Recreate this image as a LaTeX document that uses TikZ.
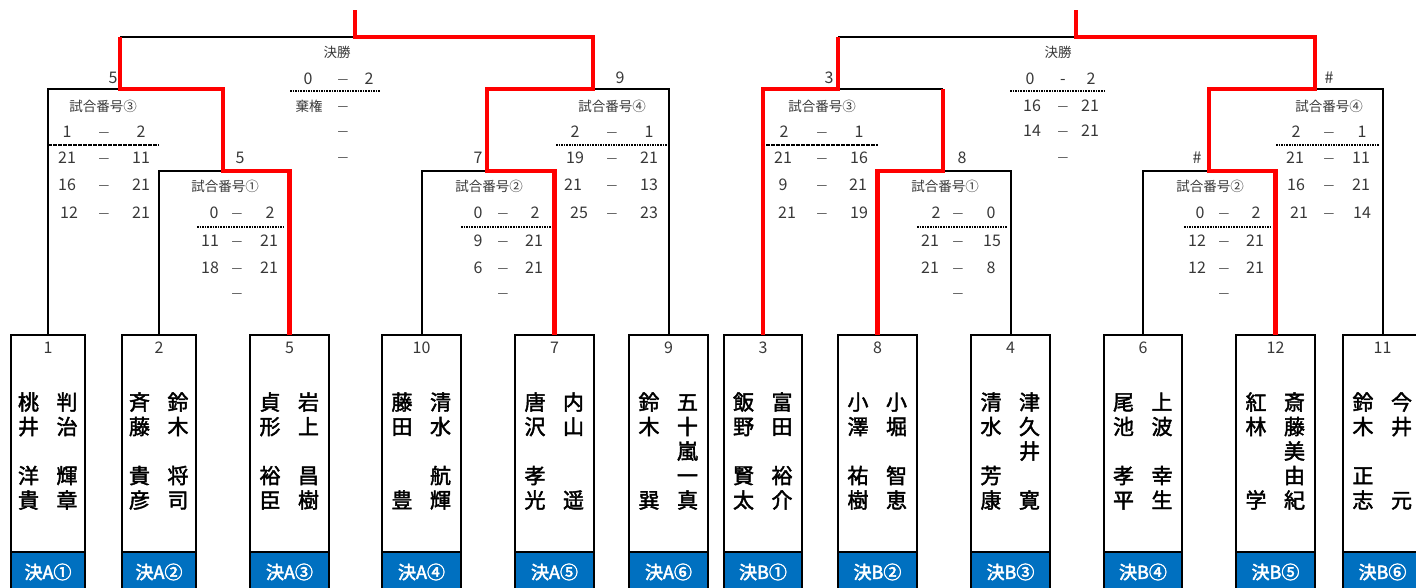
\documentclass[tikz,border=0pt]{standalone}
\usepackage{fontspec}
\newfontfamily\cjk{Noto Sans CJK JP}
\newfontfamily\cjkn[FakeBold=2]{Noto Sans CJK JP}
\newfontfamily\cjkb[FakeBold=2.5]{Noto Sans CJK JP}
\definecolor{tg}{HTML}{383838}
\definecolor{lblue}{HTML}{0070C0}
\definecolor{wred}{HTML}{FF0000}
\newcount\tn
\newcommand\vc[5]{\vtop{\baselineskip=24.5pt\lineskiplimit=-100pt\lineskip=0pt
  \hbox to 24pt{\hss#1\hss}\hbox to 24pt{\hss#2\hss}\hbox to 24pt{\hss#3\hss}\hbox to 24pt{\hss#4\hss}\hbox to 24pt{\hss#5\hss}}}
\tikzset{
  blk/.style={line width=2pt, draw=black, line join=miter},
  win/.style={line width=4.5pt, draw=wred, line join=miter},
  box/.style={draw=black, line width=2pt, minimum height=258pt, anchor=north, inner sep=0pt, outer sep=0pt},
  lab/.style={draw=black, fill=lblue, line width=2pt, minimum height=40pt, anchor=north, inner sep=0pt, outer sep=0pt,
     text=white, font=\cjkb\fontsize{18pt}{18pt}\selectfont},
  num/.style={inner sep=0pt, anchor=base, text=tg, font=\cjk\fontsize{16pt}{16pt}\selectfont},
  namecol/.style={inner sep=0pt, anchor=base, text=black, font=\cjkn\fontsize{21pt}{24.5pt}\selectfont},
  st/.style={inner sep=0pt, anchor=base, text=tg, font=\cjk\fontsize{16pt}{16pt}\selectfont},
  ttl/.style={inner sep=0pt, text=tg, font=\cjk\fontsize{13.5pt}{13.5pt}\selectfont},
  dsh/.style={inner sep=0pt, anchor=base, text=tg, font=\cjk\fontsize{12pt}{12pt}\selectfont},
  dotl/.style={line width=1.6pt, draw=black, dash pattern=on 1.5pt off 1.1pt},
  dashl/.style={line width=1.6pt, draw=black, dash pattern=on 3.6pt off 1.4pt}
}
\newcommand\Tx[3]{\global\advance\tn by 1\relax\node[st] (t\the\tn) at (#1,#2+5.9) {#3};}
\newcommand\Dx[2]{\global\advance\tn by 1\relax\node[dsh] (t\the\tn) at (#1,#2+4.6) {—};}
\newcommand\Hx[3]{\global\advance\tn by 1\relax\node[ttl] (t\the\tn) at (#1,#2) {#3};}
\newcommand\player[7]{%
  \node[lab, minimum width=#3pt] (b#1lab) at (#2,552) {#5};
  \node[box, minimum width=#3pt] (b#1) at (#2,335) {};
  \node[num] (b#1num) at (#2,353) {#4};
  \node[namecol] (b#1a) at (#2-19.5,410) {#6};
  \node[namecol] (b#1b) at (#2+19,410) {#7};
}
\begin{document}
\begin{tikzpicture}[x=1pt,y=-1pt]
\useasboundingbox (0,0) rectangle (1416,588);
\clip (0,0) rectangle (1416,588);
\fill[white] (0,0) rectangle (1416,588);

% players
\player{1}{48}{74}{1}{決A①}{\vc{桃}{井}{}{洋}{貴}}{\vc{判}{治}{}{輝}{章}}
\player{2}{159}{74}{2}{決A②}{\vc{斉}{藤}{}{貴}{彦}}{\vc{鈴}{木}{}{将}{司}}
\player{5}{289.5}{79}{5}{決A③}{\vc{貞}{形}{}{裕}{臣}}{\vc{岩}{上}{}{昌}{樹}}
\player{10}{421.5}{79}{10}{決A④}{\vc{藤}{田}{}{}{豊}}{\vc{清}{水}{}{航}{輝}}
\player{7}{554.5}{79}{7}{決A⑤}{\vc{唐}{沢}{}{孝}{光}}{\vc{内}{山}{}{}{遥}}
\player{9}{668.5}{79}{9}{決A⑥}{\vc{鈴}{木}{}{}{巽}}{\vc{五}{十}{嵐}{一}{真}}
\player{3}{763}{78}{3}{決B①}{\vc{飯}{野}{}{賢}{太}}{\vc{富}{田}{}{裕}{介}}
\player{8}{877.5}{79}{8}{決B②}{\vc{小}{澤}{}{祐}{樹}}{\vc{小}{堀}{}{智}{恵}}
\player{4}{1010.5}{79}{4}{決B③}{\vc{清}{水}{}{芳}{康}}{\vc{津}{久}{井}{}{寛}}
\player{6}{1143}{78}{6}{決B④}{\vc{尾}{池}{}{孝}{平}}{\vc{上}{波}{}{幸}{生}}
\player{12}{1275.5}{79}{12}{決B⑤}{\vc{紅}{林}{}{}{学}}{\vc{斎}{藤}{美}{由}{紀}}
\player{11}{1382.5}{79}{11}{決B⑥}{\vc{鈴}{木}{}{正}{志}}{\vc{今}{井}{}{}{元}}

% junction coordinates, A side
\coordinate (aFL) at (120,37);
\coordinate (aFW) at (355,37);
\coordinate (aFR) at (593,37);
\coordinate (aTop) at (355,10);
\coordinate (s3M) at (120,89);
\coordinate (s3R) at (223,89);
\coordinate (m1R) at (223,171);
\coordinate (s4L) at (487,89);
\coordinate (s4M) at (593,89);
\coordinate (m2M) at (487,171);
% B side
\coordinate (bFL) at (838,37);
\coordinate (bFW) at (1076,37);
\coordinate (bFR) at (1315,37);
\coordinate (bTop) at (1076,10);
\coordinate (bs3M) at (838,89);
\coordinate (bs3R) at (943,89);
\coordinate (bm1M) at (943,171);
\coordinate (bs4L) at (1209,89);
\coordinate (bs4M) at (1315,89);
\coordinate (bm2M) at (1209,171);

% black bracket lines
\draw[blk] (aFL) -- (aFW);
\draw[blk] (b1.north) |- (s3M);
\draw[blk] (b2.north) |- (m1R);
\draw[blk] (b10.north) |- (m2M);
\draw[blk] (b9.north) |- (s4M);
\draw[blk] (bFL) -- (bFW);
\draw[blk] (bs3M) -- (bs3R);
\draw[blk] (b4.north) |- (bm1M);
\draw[blk] (b6.north) |- (bm2M);
\draw[blk] (b11.north) |- (bs4M);

% winner lines
\draw[win] (b5.north) |- (m1R) -- (s3R) -- (s3M) -- (aFL);
\draw[win] (b7.north) |- (m2M) -- (s4L) -- (s4M) -- (aFR) -- (aFW) -- (aTop);
\draw[win] (b3.north) |- (bs3M) -- (bFL);
\draw[win] (b8.north) |- (bm1M) -- (bs3R);
\draw[win] (b12.north) |- (bm2M) -- (bs4L) -- (bs4M) -- (bFR) -- (bFW) -- (bTop);

% ===== A semi 3
\Tx{113}{78}{5}
\Hx{103}{106}{試合番号③}
\Tx{67}{132}{1}\Dx{104}{132}\Tx{141}{132}{2}
\coordinate (d1a) at (48,145); \coordinate (d1b) at (159,145);
\draw[dashl] (d1a) -- (d1b);
\Tx{67}{158}{21}\Dx{104}{158}\Tx{141}{158}{11}
\Tx{67}{185}{16}\Dx{104}{185}\Tx{141}{185}{21}
\Tx{69}{213}{12}\Dx{104}{213}\Tx{141}{213}{21}
% A match 1
\Tx{240}{158}{5}
\Hx{225}{186}{試合番号①}
\Tx{214}{213}{0}\Dx{237}{213}\Tx{270}{213}{2}
\coordinate (d2a) at (197,227); \coordinate (d2b) at (285,227);
\draw[dotl] (d2a) -- (d2b);
\Tx{210}{241}{11}\Dx{237}{241}\Tx{269}{241}{21}
\Tx{210}{268}{18}\Dx{237}{268}\Tx{269}{268}{21}
\Dx{237}{293}
% A final
\Hx{337}{52}{決勝}
\Tx{308}{79}{0}\Dx{343}{79}\Tx{369}{79}{2}
\coordinate (d3a) at (290,91); \coordinate (d3b) at (381,91);
\draw[dotl] (d3a) -- (d3b);
\Hx{309}{106}{棄権}\Dx{343}{106}
\Dx{343}{131}
\Dx{343}{157}
% A semi 4
\Tx{620}{78}{9}
\Hx{612}{106}{試合番号④}
\Tx{575}{132}{2}\Dx{612}{132}\Tx{649}{132}{1}
\coordinate (d4a) at (556,145); \coordinate (d4b) at (667,145);
\draw[dotl] (d4a) -- (d4b);
\Tx{575}{158}{19}\Dx{612}{158}\Tx{649}{158}{21}
\Tx{573}{185}{21}\Dx{612}{185}\Tx{649}{185}{13}
\Tx{579}{213}{25}\Dx{612}{213}\Tx{649}{213}{23}
% A match 2
\Tx{478}{158}{7}
\Hx{489}{186}{試合番号②}
\Tx{478}{213}{0}\Dx{503}{213}\Tx{535}{213}{2}
\coordinate (d5a) at (461,227); \coordinate (d5b) at (551,227);
\draw[dotl] (d5a) -- (d5b);
\Tx{478}{241}{9}\Dx{503}{241}\Tx{534}{241}{21}
\Tx{478}{268}{6}\Dx{503}{268}\Tx{534}{268}{21}
\Dx{503}{293}

% ===== B semi 3
\Tx{829}{78}{3}
\Hx{822}{106}{試合番号③}
\Tx{784}{132}{2}\Dx{822}{132}\Tx{859}{132}{1}
\coordinate (d6a) at (766,145); \coordinate (d6b) at (878,145);
\draw[dashl] (d6a) -- (d6b);
\Tx{783}{158}{21}\Dx{822}{158}\Tx{859}{158}{16}
\Tx{783}{185}{9}\Dx{822}{185}\Tx{858}{185}{21}
\Tx{787}{213}{21}\Dx{822}{213}\Tx{859}{213}{19}
% B match 1
\Tx{962}{158}{8}
\Hx{945}{186}{試合番号①}
\Tx{936}{213}{2}\Dx{958}{213}\Tx{991}{213}{0}
\coordinate (d7a) at (917,227); \coordinate (d7b) at (1008,227);
\draw[dotl] (d7a) -- (d7b);
\Tx{930}{241}{21}\Dx{958}{241}\Tx{992}{241}{15}
\Tx{930}{268}{21}\Dx{958}{268}\Tx{991}{268}{8}
\Dx{958}{293}
% B final
\Hx{1058}{52}{決勝}
\Tx{1030}{79}{0}\Tx{1063}{79}{-}\Tx{1091}{79}{2}
\coordinate (d8a) at (1010,91); \coordinate (d8b) at (1104,91);
\draw[dotl] (d8a) -- (d8b);
\Tx{1032}{106}{16}\Dx{1063}{106}\Tx{1090}{106}{21}
\Tx{1032}{131}{14}\Dx{1063}{131}\Tx{1090}{131}{21}
\Dx{1063}{157}
% B semi 4
\Tx{1329}{78}{\#}
\Hx{1329}{106}{試合番号④}
\Tx{1296}{132}{2}\Dx{1329}{132}\Tx{1362}{132}{1}
\coordinate (d9a) at (1276,145); \coordinate (d9b) at (1380,145);
\draw[dotl] (d9a) -- (d9b);
\Tx{1295}{158}{21}\Dx{1329}{158}\Tx{1361}{158}{11}
\Tx{1296}{185}{16}\Dx{1329}{185}\Tx{1361}{185}{21}
\Tx{1299}{213}{21}\Dx{1329}{213}\Tx{1362}{213}{14}
% B match 2
\Tx{1197}{158}{\#}
\Hx{1210}{186}{試合番号②}
\Tx{1200}{213}{0}\Dx{1224}{213}\Tx{1256}{213}{2}
\coordinate (d10a) at (1184,227); \coordinate (d10b) at (1272,227);
\draw[dotl] (d10a) -- (d10b);
\Tx{1197}{241}{12}\Dx{1224}{241}\Tx{1255}{241}{21}
\Tx{1197}{268}{12}\Dx{1224}{268}\Tx{1255}{268}{21}
\Dx{1224}{293}
\end{tikzpicture}
\end{document}
